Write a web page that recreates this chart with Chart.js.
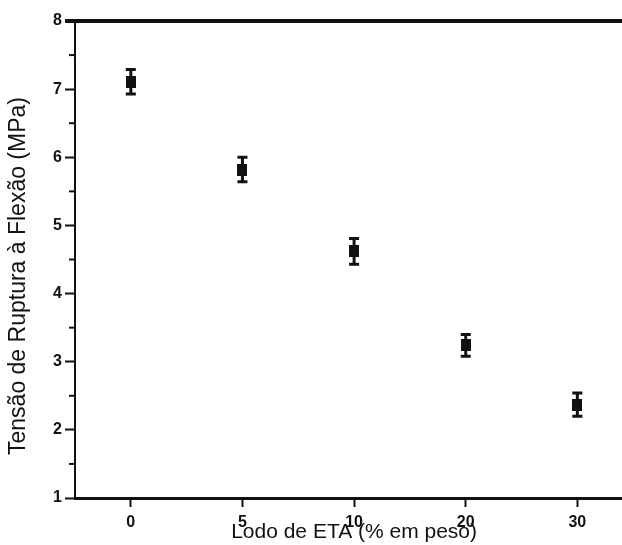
<!DOCTYPE html>
<html>
<head>
<meta charset="utf-8">
<script src="https://cdn.jsdelivr.net/npm/chart.js@4/dist/chart.umd.min.js"></script>
<style>
  html, body { margin: 0; padding: 0; background: #fff; }
  #wrap { width: 622px; height: 545px; }
</style>
</head>
<body>
<div id="wrap"><canvas id="c" width="622" height="545"></canvas></div>
<script>
// Sludge content (% by weight) and flexural rupture strength
const categories = ['0', '5', '10', '20', '30'];
const strength = [7.11, 5.82, 4.62, 3.24, 2.37];
const strengthError = [0.18, 0.18, 0.19, 0.16, 0.17];
const yTicks = [1, 2, 3, 4, 5, 6, 7, 8];

const xTitle = 'Lodo de ETA (% em peso)';
const yTitle = 'Tensão de Ruptura à Flexão (MPa)';
const FONT = '"Liberation Sans", Arial, sans-serif';
const INK = '#111';

// slightly tall filled block used as the point marker
const marker = document.createElement('canvas');
marker.width = 10;
marker.height = 12;
{
  const m = marker.getContext('2d');
  m.fillStyle = INK;
  m.fillRect(0, 0, 10, 12);
}

// Error bars, minor y ticks, top frame line and the axis titles
const extras = {
  id: 'extras',
  beforeDatasetsDraw(chart) {
    const { ctx, scales: { x, y } } = chart;
    ctx.save();
    ctx.strokeStyle = INK;
    strength.forEach((v, i) => {
      const px = x.getPixelForValue(i);
      const top = y.getPixelForValue(v + strengthError[i]);
      const bot = y.getPixelForValue(v - strengthError[i]);
      ctx.lineWidth = 3;
      ctx.beginPath();
      ctx.moveTo(px, top);
      ctx.lineTo(px, bot);
      ctx.stroke();
      ctx.beginPath();
      ctx.moveTo(px - 5, top);
      ctx.lineTo(px + 5, top);
      ctx.moveTo(px - 5, bot);
      ctx.lineTo(px + 5, bot);
      ctx.stroke();
    });
    ctx.restore();
  },
  afterDraw(chart) {
    const { ctx, chartArea, scales: { x, y } } = chart;
    ctx.save();
    ctx.strokeStyle = INK;
    // minor ticks at the half units
    ctx.lineWidth = 2;
    for (let i = 0; i < yTicks.length - 1; i++) {
      const py = y.getPixelForValue(yTicks[i] + 0.5);
      ctx.beginPath();
      ctx.moveTo(chartArea.left - 6, py);
      ctx.lineTo(chartArea.left, py);
      ctx.stroke();
    }
    // heavy top frame line
    ctx.lineWidth = 4;
    ctx.beginPath();
    ctx.moveTo(chartArea.left - 10, chartArea.top);
    ctx.lineTo(chart.width, chartArea.top);
    ctx.stroke();
    // x-axis title centred on the full category range
    const cx = (x.getPixelForValue(-0.5) + x.getPixelForValue(4.5)) / 2;
    ctx.fillStyle = INK;
    ctx.font = '21px ' + FONT;
    ctx.textAlign = 'center';
    ctx.textBaseline = 'middle';
    ctx.fillText(xTitle, cx, 532);
    // y-axis title
    ctx.translate(19, 276);
    ctx.rotate(-Math.PI / 2);
    ctx.font = '23px ' + FONT;
    ctx.fillText(yTitle, 0, 0);
    ctx.restore();
  }
};

new Chart(document.getElementById('c'), {
  type: 'scatter',
  data: {
    datasets: [{
      data: strength.map((v, i) => ({ x: i, y: v })),
      pointStyle: marker,
      pointRadius: 6,
      pointHoverRadius: 6,
      backgroundColor: INK,
      borderColor: INK,
      borderWidth: 0,
      clip: false
    }]
  },
  options: {
    responsive: false,
    animation: false,
    events: [],
    layout: { autoPadding: false, padding: { top: 21, right: 0, bottom: 0, left: 0 } },
    plugins: { legend: { display: false }, tooltip: { enabled: false } },
    scales: {
      x: {
        type: 'linear',
        min: -0.5,
        max: 4.4,
        afterBuildTicks(scale) {
          scale.ticks = categories.map((_, i) => ({ value: i }));
        },
        afterFit(scale) {
          scale.height = 47;
        },
        border: { display: true, color: INK, width: 3 },
        grid: { drawOnChartArea: false, tickLength: 9, tickColor: INK, tickWidth: 2 },
        ticks: {
          color: INK,
          padding: 6,
          font: { family: FONT, size: 16, weight: 'bold' },
          callback: (v) => categories[v]
        }
      },
      y: {
        min: 1,
        max: 8,
        afterBuildTicks(scale) {
          scale.ticks = yTicks.map(v => ({ value: v }));
        },
        afterFit(scale) { scale.width = 75; },
        border: { display: true, color: INK, width: 2 },
        grid: { drawOnChartArea: false, tickLength: 10, tickColor: INK, tickWidth: 2 },
        ticks: {
          color: INK,
          padding: 3,
          font: { family: FONT, size: 16, weight: 'bold' }
        }
      }
    }
  },
  plugins: [extras]
});
</script>
</body>
</html>
